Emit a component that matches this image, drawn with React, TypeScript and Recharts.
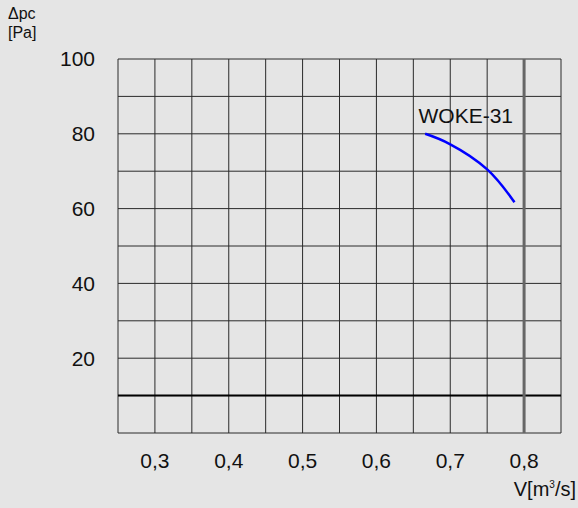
import { CartesianGrid, Line, LineChart, ReferenceDot, ReferenceLine, XAxis, YAxis } from "recharts";

// fan curve WOKE-31
const flow = [0.666, 0.7, 0.75, 0.787];
const pressure = [80, 77.2, 70.5, 61.7];

const xTicks = [0.3, 0.4, 0.5, 0.6, 0.7, 0.8];
const yTicks = [20, 40, 60, 80, 100];
const xGrid = [0.25, 0.3, 0.35, 0.4, 0.45, 0.5, 0.55, 0.6, 0.65, 0.7, 0.75, 0.8, 0.85];
const yGrid = [0, 10, 20, 30, 40, 50, 60, 70, 80, 90, 100];

const seriesName = "WOKE-31";
const minPressure = 10;
const maxFlow = 0.8;

const data = flow.map((v, i) => ({ v, p: pressure[i] }));

const font = "'Liberation Sans', Arial, sans-serif";

export default function App() {
  return (
    <div
      style={{
        position: "absolute",
        left: 0,
        top: 0,
        width: 578,
        height: 508,
        background: "#e5e5e5",
        fontFamily: font,
        color: "#111",
      }}
    >
      <div style={{ position: "absolute", left: 8, top: 4, fontSize: 16, lineHeight: "19px" }}>
        Δpc
        <br />
        [Pa]
      </div>
      <div style={{ position: "absolute", right: 2, top: 478, fontSize: 20 }}>
        V[m<sup style={{ fontSize: 10 }}>3</sup>/s]
      </div>

      <LineChart
        width={578}
        height={508}
        data={data}
        margin={{ top: 59, right: 17, bottom: 0, left: 0 }}
      >
        <CartesianGrid
          stroke="#2a2a2a"
          strokeWidth={1}
          horizontalValues={yGrid}
          verticalValues={xGrid}
        />
        <XAxis
          type="number"
          dataKey="v"
          domain={[0.25, 0.85]}
          ticks={xTicks}
          allowDataOverflow
          axisLine={false}
          tickLine={false}
          tickSize={0}
          tickMargin={20}
          height={75}
          tick={{ fill: "#111", fontSize: 21, fontFamily: font }}
          tickFormatter={(value) => String(value).replace(".", ",")}
        />
        <YAxis
          type="number"
          domain={[0, 100]}
          ticks={yTicks}
          allowDataOverflow
          axisLine={false}
          tickLine={false}
          tickSize={0}
          tickMargin={23}
          width={118}
          tick={{ fill: "#111", fontSize: 21, fontFamily: font }}
        />
        <ReferenceLine y={minPressure} stroke="#000" strokeWidth={2} />
        <ReferenceLine x={maxFlow} stroke="#666" strokeWidth={3} />
        <ReferenceDot
          x={0.721}
          y={85}
          r={0}
          fill="none"
          stroke="none"
          label={{ value: seriesName, position: "center", fill: "#111", fontSize: 21, fontFamily: font }}
        />
        <Line
          type="natural"
          dataKey="p"
          stroke="#0000ff"
          strokeWidth={2.5}
          dot={false}
          isAnimationActive={false}
        />
      </LineChart>
    </div>
  );
}
